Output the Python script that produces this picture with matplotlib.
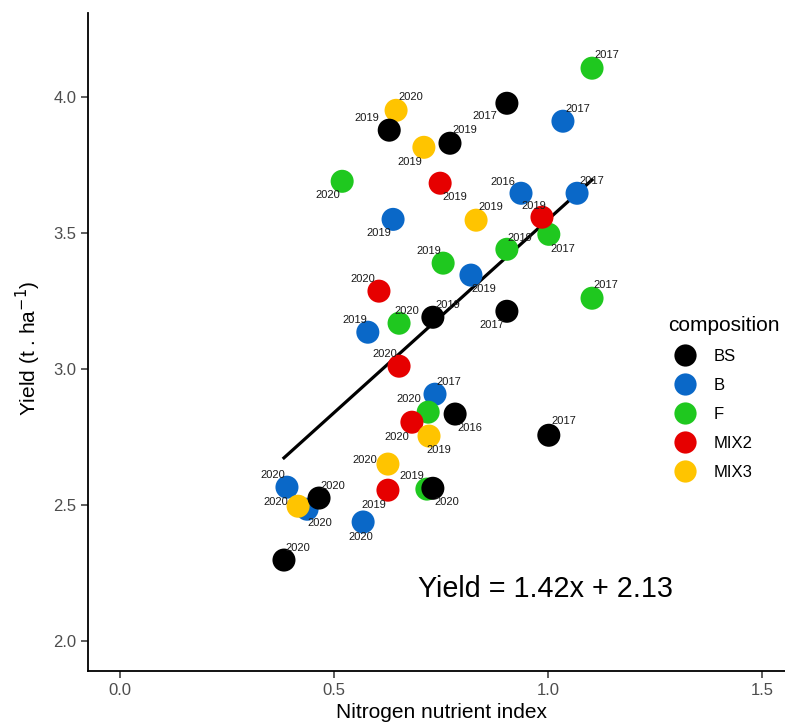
"""Yield vs nitrogen nutrient index, coloured by crop composition."""

import matplotlib
matplotlib.use("Agg")
import matplotlib.pyplot as plt
from matplotlib.lines import Line2D
import numpy as np

plt.rcParams["font.family"] = ["Liberation Sans", "DejaVu Sans"]

# --- data -----------------------------------------------------------------
bs_x = [0.904, 0.629, 0.771, 0.904, 0.731, 0.783, 1.002, 0.731, 0.465, 0.383]
bs_y = [3.978, 3.879, 3.831, 3.213, 3.191, 2.835, 2.757, 2.562, 2.526, 2.298]
bs_year = ["2017", "2019", "2019", "2017", "2019", "2016", "2017", "2020", "2020", "2020"]

b_x = [1.035, 0.937, 1.068, 0.638, 0.820, 0.579, 0.736, 0.390, 0.437, 0.568]
b_y = [3.912, 3.647, 3.647, 3.551, 3.346, 3.136, 2.908, 2.566, 2.485, 2.438]
b_year = ["2017", "2016", "2017", "2019", "2019", "2019", "2017", "2020", "2020", "2020"]

f_x = [1.103, 0.519, 1.002, 0.904, 0.755, 1.103, 0.652, 0.720, 0.717]
f_y = [4.107, 3.691, 3.496, 3.441, 3.390, 3.261, 3.169, 2.842, 2.559]
f_year = ["2017", "2020", "2017", "2019", "2019", "2017", "2020", "2020", "2019"]

mix2_x = [0.748, 0.986, 0.605, 0.652, 0.682, 0.626]
mix2_y = [3.684, 3.559, 3.287, 3.011, 2.805, 2.555]
mix2_year = ["2019", "2019", "2020", "2020", "2020", "2019"]

mix3_x = [0.645, 0.710, 0.832, 0.722, 0.626, 0.416]
mix3_y = [3.952, 3.816, 3.548, 2.754, 2.651, 2.496]
mix3_year = ["2020", "2019", "2019", "2019", "2020", "2020"]

slope, intercept = 1.42, 2.13

# year-label offsets (pixels, dx right / dy down), repel-style
OFFSETS = {
    "BS": [(-22, 13), (-22, -12), (15, -13), (-15, 14), (15, -12),
           (15, 14), (15, -14), (14, 14), (14, -12), (14, -12)],
    "B": [(15, -12), (-18, -11), (15, -12), (-14, 14), (13, 14),
          (-13, -12), (14, -12), (-14, -12), (13, 14), (-2, 15)],
    "F": [(15, -13), (-14, 14), (14, 15), (13, -11), (-14, -12),
          (14, -13), (8, -12), (-19, -13), (-15, -13)],
    "MIX2": [(15, 14), (-8, -11), (-16, -12), (-14, -12), (-15, 15), (-14, 15)],
    "MIX3": [(15, -13), (-14, 15), (15, -13), (10, 14), (-23, -4), (-22, -4)],
}

GROUPS = [
    ("BS", bs_x, bs_y, bs_year, "#000000", 6),
    ("B", b_x, b_y, b_year, "#0a68c8", 2),
    ("F", f_x, f_y, f_year, "#1fc81f", 3),
    ("MIX2", mix2_x, mix2_y, mix2_year, "#e60000", 4),
    ("MIX3", mix3_x, mix3_y, mix3_year, "#ffc400", 5),
]

# --- figure ---------------------------------------------------------------
W, H = 785, 726
fig = plt.figure(figsize=(W / 100, H / 100), dpi=100)
ax = fig.add_axes([88 / W, 55 / H, 706 / W, 658 / H])

all_x = np.concatenate([g[1] for g in GROUPS])
xs = np.array([all_x.min(), all_x.max()])
ax.plot(xs, slope * xs + intercept, color="black", lw=2.3, zorder=1)

handles = []
for name, x, y, years, color, z in GROUPS:
    ax.scatter(x, y, s=275, color=color, edgecolors="none", zorder=z)
    for xi, yi, yr, (dx, dy) in zip(x, y, years, OFFSETS[name]):
        ax.annotate(yr, (xi, yi), xytext=(dx, -dy), textcoords="offset pixels",
                    ha="center", va="center", fontsize=8, color="#1a1a1a",
                    zorder=10)
    handles.append(Line2D([], [], ls="none", marker="o", markersize=16,
                          markerfacecolor=color, markeredgecolor="none",
                          label=name))

ax.text(0.993, 2.19, f"Yield = {slope:.2f}x + {intercept:.2f}",
        ha="center", va="center", fontsize=20.7)

ax.set_xlim(-0.075, 1.575)
ax.set_ylim(1.89, 4.31)
ax.set_xticks([0.0, 0.5, 1.0, 1.5])
ax.set_yticks([2.0, 2.5, 3.0, 3.5, 4.0])
ax.xaxis.set_major_formatter(matplotlib.ticker.FormatStrFormatter("%.1f"))
ax.yaxis.set_major_formatter(matplotlib.ticker.FormatStrFormatter("%.1f"))
ax.tick_params(labelsize=12, labelcolor="#4d4d4d", color="#333333",
               length=5, width=1.1)
for side in ("top", "right"):
    ax.spines[side].set_visible(False)
for side in ("left", "bottom"):
    ax.spines[side].set_linewidth(1.3)

ax.set_xlabel("Nitrogen nutrient index", fontsize=15)
ax.set_ylabel(r"Yield (t . ha$^{-1}$)", fontsize=15)
ax.xaxis.set_label_coords((442 - 88) / 706, -(713 - 671) / 658)
ax.xaxis.label.set_va("center")
ax.yaxis.set_label_coords(-(88 - 28) / 706, (671 - 348) / 658)
ax.yaxis.label.set_va("center")

leg = fig.legend(handles=handles, title="composition", loc="upper left",
                 bbox_to_anchor=(653 / W, 1 - 301 / H), frameon=False,
                 fontsize=12, title_fontsize=15, labelspacing=0.84,
                 handlelength=2.0, handletextpad=0.72)
leg._legend_box.align = "left"

fig.savefig("out.png", dpi=100)
